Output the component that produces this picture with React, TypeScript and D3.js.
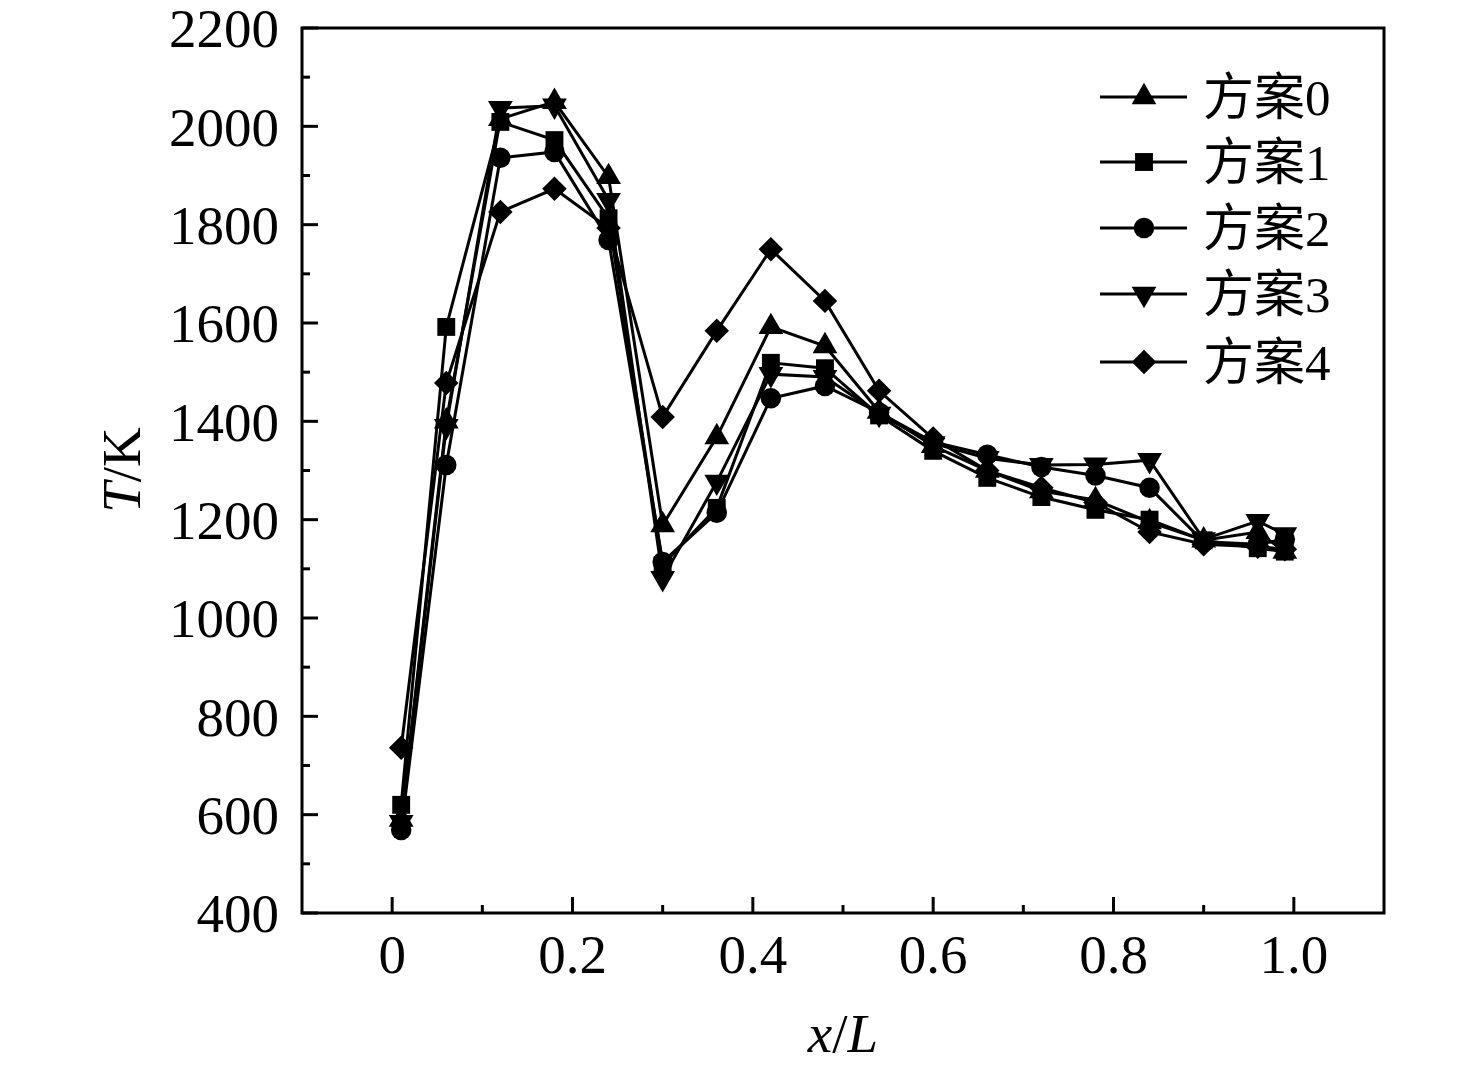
import React from "react";
import * as d3 from "d3";

const xs = [0.01, 0.06, 0.12, 0.18, 0.24, 0.30, 0.36, 0.42, 0.48, 0.54, 0.60, 0.66, 0.72, 0.78, 0.84, 0.90, 0.96, 0.99];
const seriesNames = ["方案0", "方案1", "方案2", "方案3", "方案4"];
const s0 = [590, 1400, 2015, 2050, 1897, 1189, 1368, 1592, 1553, 1420, 1350, 1300, 1258, 1240, 1195, 1158, 1175, 1135];
const s1 = [620, 1592, 2009, 1972, 1813, 1108, 1224, 1519, 1508, 1412, 1340, 1285, 1246, 1220, 1200, 1158, 1142, 1135];
const s2 = [569, 1311, 1936, 1948, 1769, 1114, 1214, 1447, 1472, 1418, 1358, 1332, 1307, 1290, 1265, 1155, 1150, 1160];
const s3 = [585, 1390, 2037, 2042, 1850, 1081, 1277, 1496, 1490, 1415, 1355, 1325, 1311, 1312, 1321, 1160, 1197, 1170];
const s4 = [736, 1478, 1826, 1873, 1793, 1409, 1584, 1750, 1645, 1462, 1365, 1300, 1265, 1235, 1175, 1150, 1145, 1140];
const seriesValues = [s0, s1, s2, s3, s4];
const yTicks = [400, 600, 800, 1000, 1200, 1400, 1600, 1800, 2000, 2200];
const xTicks = [0, 0.2, 0.4, 0.6, 0.8, 1.0];
const xTickLabels = ["0", "0.2", "0.4", "0.6", "0.8", "1.0"];

const W = 1476, H = 1071;
const L = 302, R = 1384, T = 28, B = 913;
const FONT = "'Liberation Serif', 'Times New Roman', 'Noto Sans CJK SC', serif";

const markerTypes = ["up", "square", "circle", "down", "diamond"];

function markerPath(type: string): { d: string; rot: number } {
  if (type === "up") return { d: d3.symbol().type(d3.symbolTriangle).size(265)()!, rot: 0 };
  if (type === "down") return { d: d3.symbol().type(d3.symbolTriangle).size(265)()!, rot: 180 };
  if (type === "square") return { d: d3.symbol().type(d3.symbolSquare).size(320)()!, rot: 0 };
  if (type === "circle") return { d: d3.symbol().type(d3.symbolCircle).size(330)()!, rot: 0 };
  return { d: d3.symbol().type(d3.symbolSquare).size(300)()!, rot: 45 };
}

export default function App() {
  const x = d3.scaleLinear().domain([-0.1, 1.1]).range([L, R]);
  const y = d3.scaleLinear().domain([400, 2200]).range([B, T]);
  const line = d3.line<number>().x((_, i) => x(xs[i])).y((v) => y(v));

  const yMinor = d3.range(500, 2200, 200);
  const xMinor = [0.1, 0.3, 0.5, 0.7, 0.9];

  const legendY = [97, 162, 228, 294, 362];

  return (
    <svg width={W} height={H} style={{ display: "block", position: "absolute", left: 0, top: 0 }}>
      <rect x={0} y={0} width={W} height={H} fill="#fff" />
      {/* frame */}
      <rect x={L} y={T} width={R - L} height={B - T} fill="none" stroke="#000" strokeWidth={3} />
      {/* y ticks */}
      {yTicks.map((t) => (
        <g key={"yt" + t}>
          <line x1={L} x2={L + 16} y1={y(t)} y2={y(t)} stroke="#000" strokeWidth={3} />
          <text x={279} y={y(t)} dy="0.35em" textAnchor="end" fontFamily={FONT} fontSize={55}>
            {t}
          </text>
        </g>
      ))}
      {yMinor.map((t) => (
        <line key={"ym" + t} x1={L} x2={L + 8} y1={y(t)} y2={y(t)} stroke="#000" strokeWidth={3} />
      ))}
      {/* x ticks */}
      {xTicks.map((t, i) => (
        <g key={"xt" + t}>
          <line x1={x(t)} x2={x(t)} y1={B} y2={B - 16} stroke="#000" strokeWidth={3} />
          <text x={x(t)} y={973} textAnchor="middle" fontFamily={FONT} fontSize={55}>
            {xTickLabels[i]}
          </text>
        </g>
      ))}
      {xMinor.map((t) => (
        <line key={"xm" + t} x1={x(t)} x2={x(t)} y1={B} y2={B - 8} stroke="#000" strokeWidth={3} />
      ))}
      {/* axis titles */}
      <text
        transform={`translate(140,470) rotate(-90)`}
        textAnchor="middle"
        fontFamily={FONT}
        fontSize={55}
      >
        <tspan fontStyle="italic">T</tspan>
        <tspan>/K</tspan>
      </text>
      <text x={843} y={1052} textAnchor="middle" fontFamily={FONT} fontSize={55}>
        <tspan fontStyle="italic">x</tspan>
        <tspan>/</tspan>
        <tspan fontStyle="italic">L</tspan>
      </text>
      {/* series */}
      {seriesValues.map((vals, si) => {
        const m = markerPath(markerTypes[si]);
        return (
          <g key={"s" + si}>
            <path d={line(vals)!} fill="none" stroke="#000" strokeWidth={3} />
            {vals.map((v, i) => (
              <path
                key={i}
                d={m.d}
                transform={`translate(${x(xs[i])},${y(v)}) rotate(${m.rot})`}
                fill="#000"
              />
            ))}
          </g>
        );
      })}
      {/* legend */}
      {seriesNames.map((name, si) => {
        const m = markerPath(markerTypes[si]);
        const ly = legendY[si];
        return (
          <g key={"lg" + si}>
            <line x1={1100} x2={1187} y1={ly} y2={ly} stroke="#000" strokeWidth={3} />
            <path d={m.d} transform={`translate(1144,${ly}) rotate(${m.rot})`} fill="#000" />
            <text x={1203} y={ly} dy="0.36em" fontFamily={FONT} fontSize={51}>
              {name}
            </text>
          </g>
        );
      })}
    </svg>
  );
}
